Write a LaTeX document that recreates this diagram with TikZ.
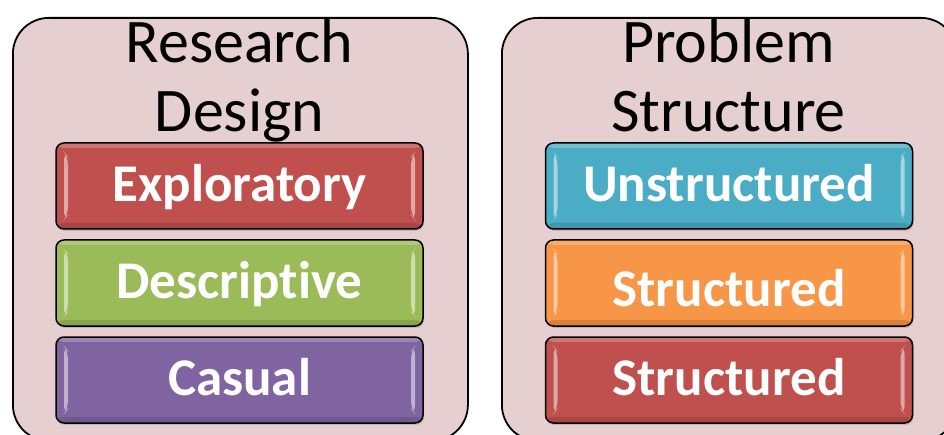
\documentclass[tikz,border=0pt]{standalone}
\usepackage{fontspec}
\setmainfont{Carlito}[Ligatures=NoCommon]
\usetikzlibrary{shadows}
\definecolor{outerfill}{HTML}{E6CFD0}
\definecolor{cred}{HTML}{C0504D}
\definecolor{cgreen}{HTML}{9BBB59}
\definecolor{cpurple}{HTML}{8064A2}
\definecolor{cblue}{HTML}{4BACC6}
\definecolor{corange}{HTML}{F79646}
\tikzset{
  outerbox/.style={draw=black, line width=1.8pt, fill=outerfill, rounded corners=36pt,
    minimum width=455pt, minimum height=423pt, anchor=north west, inner sep=0pt},
  titletext/.style={font=\fontsize{62}{70}\selectfont, text=black, inner sep=0pt, anchor=base},
  itembox/.style={draw=black, line width=1.5pt, rounded corners=8pt,
    minimum width=367pt, minimum height=86pt, inner sep=0pt, text=white,
    text height=31pt, text depth=0pt,
    font=\bfseries\fontsize{53}{60}\selectfont,
    drop shadow={shadow xshift=1pt, shadow yshift=-2pt, opacity=0.35},
    path picture={
      \fill[white, opacity=0.22] (path picture bounding box.north west) rectangle ([yshift=-5pt]path picture bounding box.north east);
      \fill[black, opacity=0.12] (path picture bounding box.south west) rectangle ([yshift=6pt]path picture bounding box.south east);
      \fill[white, opacity=0.5]
        ([xshift=8pt,yshift=-9pt]path picture bounding box.north west) --
        ([xshift=12pt,yshift=-14pt]path picture bounding box.north west) --
        ([xshift=12pt,yshift=14pt]path picture bounding box.south west) --
        ([xshift=8pt,yshift=9pt]path picture bounding box.south west) -- cycle;
      \fill[white, opacity=0.5]
        ([xshift=-8pt,yshift=-9pt]path picture bounding box.north east) --
        ([xshift=-12pt,yshift=-14pt]path picture bounding box.north east) --
        ([xshift=-12pt,yshift=14pt]path picture bounding box.south east) --
        ([xshift=-8pt,yshift=9pt]path picture bounding box.south east) -- cycle;
    }}
}
\begin{document}
\begin{tikzpicture}[x=1pt, y=-1pt]
  \useasboundingbox (0,0) rectangle (944,435);
  \clip (0,0) rectangle (944,435);
  % outer panels
  \node (rdpanel) [outerbox] at (12,17) {};
  \node (pspanel) [outerbox] at (501,17) {};
  % titles
  \node (rdtitleA) [titletext] at (239.5,63) {Research};
  \node (rdtitleB) [titletext] at (239.5,132) {Design};
  \node (pstitleA) [titletext] at (728.5,63) {Problem};
  \node (pstitleB) [titletext] at (728.5,132) {Structure};
  % research design items
  \node (expl) [itembox, fill=cred] at (239.5,186) {Exploratory};
  \node (desc) [itembox, fill=cgreen] at (239.5,283) {Descriptive};
  \node (caus) [itembox, fill=cpurple] at (239.5,380) {Casual};
  % problem structure items
  \node (unst) [itembox, fill=cblue] at (729,186) {Unstructured};
  \node (strA) [itembox, fill=corange, text height=48pt] at (729,283) {Structured};
  \node (strB) [itembox, fill=cred] at (729,380) {Structured};
\end{tikzpicture}
\end{document}
